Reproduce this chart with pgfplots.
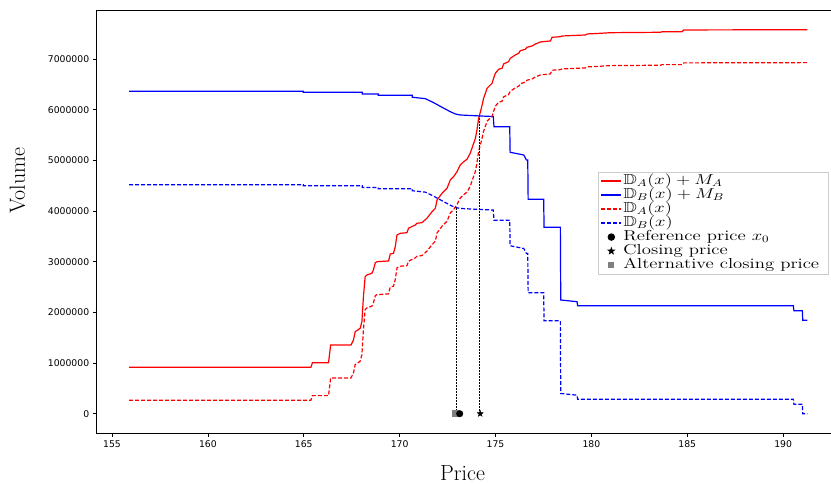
\documentclass[border=0pt]{standalone}
\usepackage{pgfplots}
\pgfplotsset{compat=1.18}
\usepackage{amssymb}
\usepackage{graphicx}
\usepackage{fontspec}
\newfontfamily\dejavu{DejaVu Sans}

\pgfdeclareplotmark{fstar}{%
  \pgfpathmoveto{\pgfpointpolar{90}{\pgfplotmarksize}}%
  \pgfpathlineto{\pgfpointpolar{126}{0.4\pgfplotmarksize}}%
  \pgfpathlineto{\pgfpointpolar{162}{\pgfplotmarksize}}%
  \pgfpathlineto{\pgfpointpolar{198}{0.4\pgfplotmarksize}}%
  \pgfpathlineto{\pgfpointpolar{234}{\pgfplotmarksize}}%
  \pgfpathlineto{\pgfpointpolar{270}{0.4\pgfplotmarksize}}%
  \pgfpathlineto{\pgfpointpolar{306}{\pgfplotmarksize}}%
  \pgfpathlineto{\pgfpointpolar{342}{0.4\pgfplotmarksize}}%
  \pgfpathlineto{\pgfpointpolar{18}{\pgfplotmarksize}}%
  \pgfpathlineto{\pgfpointpolar{54}{0.4\pgfplotmarksize}}%
  \pgfpathclose
  \pgfusepathqfillstroke}

\pgfplotsset{
  lineleg/.style={legend image code/.code={\draw[##1] (0bp,0bp) -- (20bp,0bp);}},
  markleg/.style={legend image code/.code={\draw[##1] plot coordinates {(10bp,0bp)};}},
}
\newcommand{\legtext}[1]{\makebox[201bp][l]{\scalebox{1.3}[1]{#1}}}

\begin{document}
\begin{tikzpicture}
\begin{axis}[
  at={(0,0)}, anchor=south west,
  scale only axis, width=744bp, height=422.3bp,
  xmin=154.2, xmax=193.0, ymin=-381000, ymax=7953000,
  xtick={155,160,165,170,175,180,185,190},
  ytick={0,1000000,2000000,3000000,4000000,5000000,6000000,7000000},
  tick align=outside, tick pos=left,
  major tick length=4bp,
  tick style={black, line width=0.8bp},
  axis line style={black, line width=0.8bp},
  ticklabel style={font=\dejavu\fontsize{9.3}{10}\selectfont},
  /pgf/number format/assume math mode=true,
  scaled y ticks=false,
  yticklabel style={/pgf/number format/fixed, /pgf/number format/1000 sep={}},
  xlabel={Price}, ylabel={Volume},
  label style={font=\fontsize{22}{24}\selectfont},
  xlabel style={at={(axis description cs:0.4917,-0.1113)}, anchor=base},
  ylabel style={at={(axis description cs:-0.0964,0.597)}, anchor=base},
  legend cell align=left,
  legend style={at={(axis cs:180.36,4776000)}, anchor=north west,
    draw=black!20, line width=0.8bp, fill=white, inner sep=2bp, row sep=0pt,
    font=\fontsize{14.5}{14.5}\selectfont,
    nodes={inner xsep=1.5bp, inner ysep=0pt, text height=10bp, text depth=4bp}},
]
\addplot[red, line width=1.2bp, lineleg] coordinates {
(155.89,0.916e6)(165.37,0.916e6)(165.45,1.007e6)(166.29,1.007e6)(166.40,1.356e6)(167.46,1.356e6)(167.59,1.454e6)(167.68,1.618e6)(167.94,1.685e6)(168.03,1.816e6)(168.11,2.309e6)(168.20,2.704e6)(168.29,2.737e6)(168.55,2.771e6)(168.63,2.836e6)(168.73,2.980e6)(168.82,3.000e6)(169.42,3.014e6)(169.51,3.152e6)(169.68,3.166e6)(169.77,3.296e6)(169.86,3.527e6)(170.03,3.560e6)(170.38,3.572e6)(170.46,3.659e6)(170.81,3.724e6)(170.90,3.758e6)(171.16,3.770e6)(171.42,3.856e6)(171.69,3.987e6)(171.86,4.054e6)(171.95,4.218e6)(172.21,4.350e6)(172.47,4.448e6)(172.64,4.612e6)(172.81,4.677e6)(172.99,4.776e6)(173.16,4.908e6)(173.34,4.973e6)(173.51,5.021e6)(173.68,5.139e6)(173.86,5.336e6)(173.95,5.435e6)(174.03,5.599e6)(174.12,5.836e6)(174.21,5.954e6)(174.30,6.092e6)(174.38,6.225e6)(174.56,6.422e6)(174.82,6.521e6)(174.90,6.619e6)(174.99,6.718e6)(175.16,6.797e6)(175.34,6.817e6)(175.42,6.902e6)(175.68,6.947e6)(175.77,7.014e6)(176.03,7.079e6)(176.21,7.113e6)(176.29,7.164e6)(176.56,7.192e6)(176.64,7.231e6)(176.91,7.257e6)(177.08,7.296e6)(177.25,7.322e6)(177.34,7.336e6)(177.86,7.356e6)(177.95,7.428e6)(178.38,7.440e6)(178.47,7.454e6)(179.69,7.474e6)(179.78,7.494e6)(180.47,7.507e6)(180.99,7.519e6)(183.60,7.527e6)(183.69,7.539e6)(184.73,7.539e6)(184.82,7.573e6)(191.26,7.578e6)
};
\addlegendentry{\legtext{$\mathbb{D}_A(x)+M_A$}}
\addplot[blue, line width=1.2bp, lineleg] coordinates {
(155.89,6.365e6)(164.97,6.365e6)(164.97,6.345e6)(168.05,6.345e6)(168.05,6.310e6)(168.88,6.310e6)(168.88,6.285e6)(170.66,6.285e6)(170.66,6.245e6)(171.34,6.217e6)(171.77,6.138e6)(172.21,6.047e6)(172.64,5.960e6)(172.90,5.915e6)(173.16,5.895e6)(174.21,5.875e6)(174.88,5.865e6)(174.92,5.664e6)(175.74,5.664e6)(175.76,5.159e6)(176.47,5.106e6)(176.61,5.007e6)(176.68,5.007e6)(176.70,4.231e6)(177.51,4.231e6)(177.53,3.679e6)(178.38,3.679e6)(178.40,2.244e6)(179.25,2.210e6)(179.28,2.131e6)(190.53,2.131e6)(190.56,2.033e6)(191.00,2.033e6)(191.02,1.845e6)(191.26,1.845e6)
};
\addlegendentry{\legtext{$\mathbb{D}_B(x)+M_B$}}
\addplot[red, line width=1.2bp, dash pattern=on 4bp off 2bp, lineleg] coordinates {
(155.89,0.266e6)(165.37,0.266e6)(165.45,0.357e6)(166.29,0.357e6)(166.40,0.706e6)(167.46,0.706e6)(167.59,0.804e6)(167.68,0.968e6)(167.94,1.035e6)(168.03,1.166e6)(168.11,1.659e6)(168.20,2.054e6)(168.29,2.087e6)(168.55,2.121e6)(168.63,2.186e6)(168.73,2.330e6)(168.82,2.350e6)(169.42,2.364e6)(169.51,2.502e6)(169.68,2.516e6)(169.77,2.646e6)(169.86,2.877e6)(170.03,2.910e6)(170.38,2.922e6)(170.46,3.009e6)(170.81,3.074e6)(170.90,3.108e6)(171.16,3.120e6)(171.42,3.206e6)(171.69,3.337e6)(171.86,3.404e6)(171.95,3.568e6)(172.21,3.700e6)(172.47,3.798e6)(172.64,3.962e6)(172.81,4.027e6)(172.99,4.126e6)(173.16,4.258e6)(173.34,4.323e6)(173.51,4.371e6)(173.68,4.489e6)(173.86,4.686e6)(173.95,4.785e6)(174.03,4.949e6)(174.12,5.186e6)(174.21,5.304e6)(174.30,5.442e6)(174.38,5.575e6)(174.56,5.772e6)(174.82,5.871e6)(174.90,5.969e6)(174.99,6.068e6)(175.16,6.147e6)(175.34,6.167e6)(175.42,6.252e6)(175.68,6.297e6)(175.77,6.364e6)(176.03,6.429e6)(176.21,6.463e6)(176.29,6.514e6)(176.56,6.542e6)(176.64,6.581e6)(176.91,6.607e6)(177.08,6.646e6)(177.25,6.672e6)(177.34,6.686e6)(177.86,6.706e6)(177.95,6.778e6)(178.38,6.790e6)(178.47,6.804e6)(179.69,6.824e6)(179.78,6.844e6)(180.47,6.857e6)(180.99,6.869e6)(183.60,6.877e6)(183.69,6.889e6)(184.73,6.889e6)(184.82,6.923e6)(191.26,6.928e6)
};
\addlegendentry{\legtext{$\mathbb{D}_A(x)$}}
\addplot[blue, line width=1.2bp, dash pattern=on 4bp off 2bp, lineleg] coordinates {
(155.89,4.520e6)(164.97,4.520e6)(164.97,4.500e6)(168.05,4.500e6)(168.05,4.465e6)(168.88,4.465e6)(168.88,4.440e6)(170.66,4.440e6)(170.66,4.400e6)(171.34,4.372e6)(171.77,4.293e6)(172.21,4.202e6)(172.64,4.115e6)(172.90,4.070e6)(173.16,4.050e6)(174.21,4.030e6)(174.88,4.020e6)(174.92,3.819e6)(175.74,3.819e6)(175.76,3.314e6)(176.47,3.261e6)(176.61,3.162e6)(176.68,3.162e6)(176.70,2.386e6)(177.51,2.386e6)(177.53,1.834e6)(178.38,1.834e6)(178.40,0.399e6)(179.25,0.365e6)(179.28,0.286e6)(190.53,0.286e6)(190.56,0.188e6)(191.00,0.188e6)(191.02,0.0)(191.26,0.0)
};
\addlegendentry{\legtext{$\mathbb{D}_B(x)$}}
\addplot[black, line width=1.2bp, dash pattern=on 1.2bp off 1.8bp, forget plot] coordinates {(172.95,0)(172.95,4.085e6)};
\addplot[black, line width=1.2bp, dash pattern=on 1.2bp off 1.8bp, forget plot] coordinates {(174.17,0)(174.17,5.875e6)};
\addplot[only marks, mark=square*, mark size=3bp, draw=gray, fill=gray, forget plot] coordinates {(172.90,0)};
\addplot[only marks, mark=*, mark size=3.3bp, black, markleg] coordinates {(173.13,0)};
\addlegendentry{\legtext{Reference price $x_0$}}
\addplot[only marks, mark=fstar, mark size=3.2bp, black, markleg] coordinates {(174.20,0)};
\addlegendentry{\legtext{Closing price}}
\addlegendimage{only marks, mark=square*, mark size=2.5bp, draw=gray, fill=gray, markleg}
\addlegendentry{\legtext{Alternative closing price}}
\end{axis}
\pgfresetboundingbox
\useasboundingbox (-96.7bp,-51bp) rectangle (734.3bp,433bp);
\end{tikzpicture}
\end{document}
